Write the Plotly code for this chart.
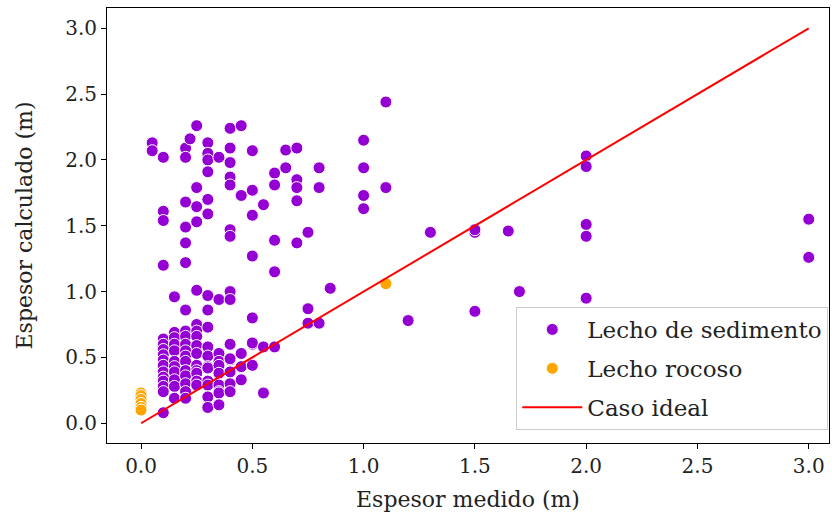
import plotly.graph_objects as go

# Lecho de sedimento (purple)
sed_x = (
    [0.05]*2 +
    [0.1]*16 +
    [0.15]*11 +
    [0.2]*18 + [0.22] +
    [0.25]*15 +
    [0.3]*17 +
    [0.35]*10 +
    [0.4]*15 +
    [0.45]*5 +
    [0.5]*8 +
    [0.55]*3 +
    [0.6]*5 +
    [0.65]*2 +
    [0.7]*5 +
    [0.75]*3 +
    [0.8]*3 +
    [0.85] +
    [1.0]*4 +
    [1.1]*2 +
    [1.2] + [1.3] +
    [1.5]*3 +
    [1.65] + [1.7] +
    [2.0]*5 +
    [3.0]*2
)
sed_y = (
    [2.13, 2.07] +
    [2.02, 1.61, 1.54, 1.20, 0.64, 0.60, 0.56, 0.52, 0.48, 0.44, 0.39, 0.35, 0.32, 0.28, 0.24, 0.08] +
    [0.96, 0.69, 0.65, 0.60, 0.55, 0.47, 0.43, 0.39, 0.33, 0.28, 0.19] +
    [2.09, 2.02, 1.68, 1.49, 1.37, 1.22, 0.86, 0.70, 0.66, 0.60, 0.55, 0.51, 0.47, 0.40, 0.36, 0.30, 0.24, 0.19] + [2.16] +
    [2.26, 1.79, 1.645, 1.53, 1.01, 0.75, 0.70, 0.66, 0.59, 0.53, 0.44, 0.40, 0.38, 0.32, 0.29] +
    [2.13, 2.05, 2.00, 1.91, 1.70, 1.59, 0.97, 0.86, 0.73, 0.58, 0.51, 0.43, 0.42, 0.32, 0.29, 0.20, 0.12] +
    [2.02, 0.94, 0.53, 0.47, 0.44, 0.38, 0.29, 0.24, 0.23, 0.14] +
    [2.24, 2.09, 1.98, 1.87, 1.81, 1.47, 1.42, 1.00, 0.94, 0.60, 0.48, 0.39, 0.30, 0.24, 0.49] +
    [2.26, 1.73, 0.53, 0.43, 0.33] +
    [2.07, 1.77, 1.58, 1.27, 0.80, 0.60, 0.44, 0.61] +
    [1.66, 0.58, 0.23] +
    [1.90, 1.81, 1.39, 1.15, 0.58] +
    [2.075, 1.94] +
    [2.09, 1.85, 1.79, 1.69, 1.37] +
    [1.45, 0.87, 0.76] +
    [1.94, 1.79, 0.76] +
    [1.025] +
    [2.15, 1.94, 1.73, 1.63] +
    [2.44, 1.79] +
    [0.78] + [1.45] +
    [1.45, 1.47, 0.85] +
    [1.46] + [1.0] +
    [2.03, 1.95, 1.51, 1.42, 0.95] +
    [1.55, 1.26]
)

# Lecho rocoso (orange)
roc_x = [0.0, 0.0, 0.0, 0.0, 0.0, 0.0, 1.1]
roc_y = [0.23, 0.21, 0.18, 0.15, 0.12, 0.10, 1.06]

# Caso ideal
ideal_x = [0.0, 3.0]
ideal_y = [0.0, 3.0]

x_ticks = [0.0, 0.5, 1.0, 1.5, 2.0, 2.5, 3.0]
y_ticks = [0.0, 0.5, 1.0, 1.5, 2.0, 2.5, 3.0]
tick_text = ["0.0", "0.5", "1.0", "1.5", "2.0", "2.5", "3.0"]

FONT = "DejaVu Serif"

fig = go.Figure()
fig.add_trace(go.Scatter(
    x=sed_x, y=sed_y, mode="markers", name="Lecho de sedimento", legendgroup="a",
    marker=dict(color="#9400D3", size=12, line=dict(color="white", width=1)),
))
fig.add_trace(go.Scatter(
    x=roc_x, y=roc_y, mode="markers", name="Lecho rocoso", legendgroup="b",
    marker=dict(color="#FFA500", size=12, line=dict(color="white", width=1)),
))
fig.add_trace(go.Scatter(
    x=ideal_x, y=ideal_y, mode="lines", name="Caso ideal", legendgroup="c",
    line=dict(color="red", width=2),
))

axis_common = dict(
    showline=True, mirror=True, linecolor="black", linewidth=1,
    ticks="outside", ticklen=5, tickcolor="black", tickwidth=1,
    showgrid=False, zeroline=False,
    tickfont=dict(family=FONT, size=20, color="#222"),
)

fig.update_layout(
    width=832, height=522,
    margin=dict(l=107, r=3, t=8, b=79),
    plot_bgcolor="white", paper_bgcolor="white",
    font=dict(family=FONT, color="#222"),
    xaxis=dict(range=[-0.153, 3.091], tickvals=x_ticks, ticktext=tick_text,
               title=dict(text="Espesor medido (m)", font=dict(family=FONT, size=22), standoff=14),
               **axis_common),
    yaxis=dict(range=[-0.15, 3.154], tickvals=y_ticks, ticktext=tick_text,
               title=dict(text="Espesor calculado (m)", font=dict(family=FONT, size=22), standoff=26),
               **axis_common),
    legend=dict(x=0.999, y=0.03, xanchor="right", yanchor="bottom",
                bgcolor="white", bordercolor="#cccccc", borderwidth=1,
                font=dict(family=FONT, size=23, color="#222"),
                itemwidth=60, tracegroupgap=6),
    showlegend=True,
)

fig.write_html("out.html")
